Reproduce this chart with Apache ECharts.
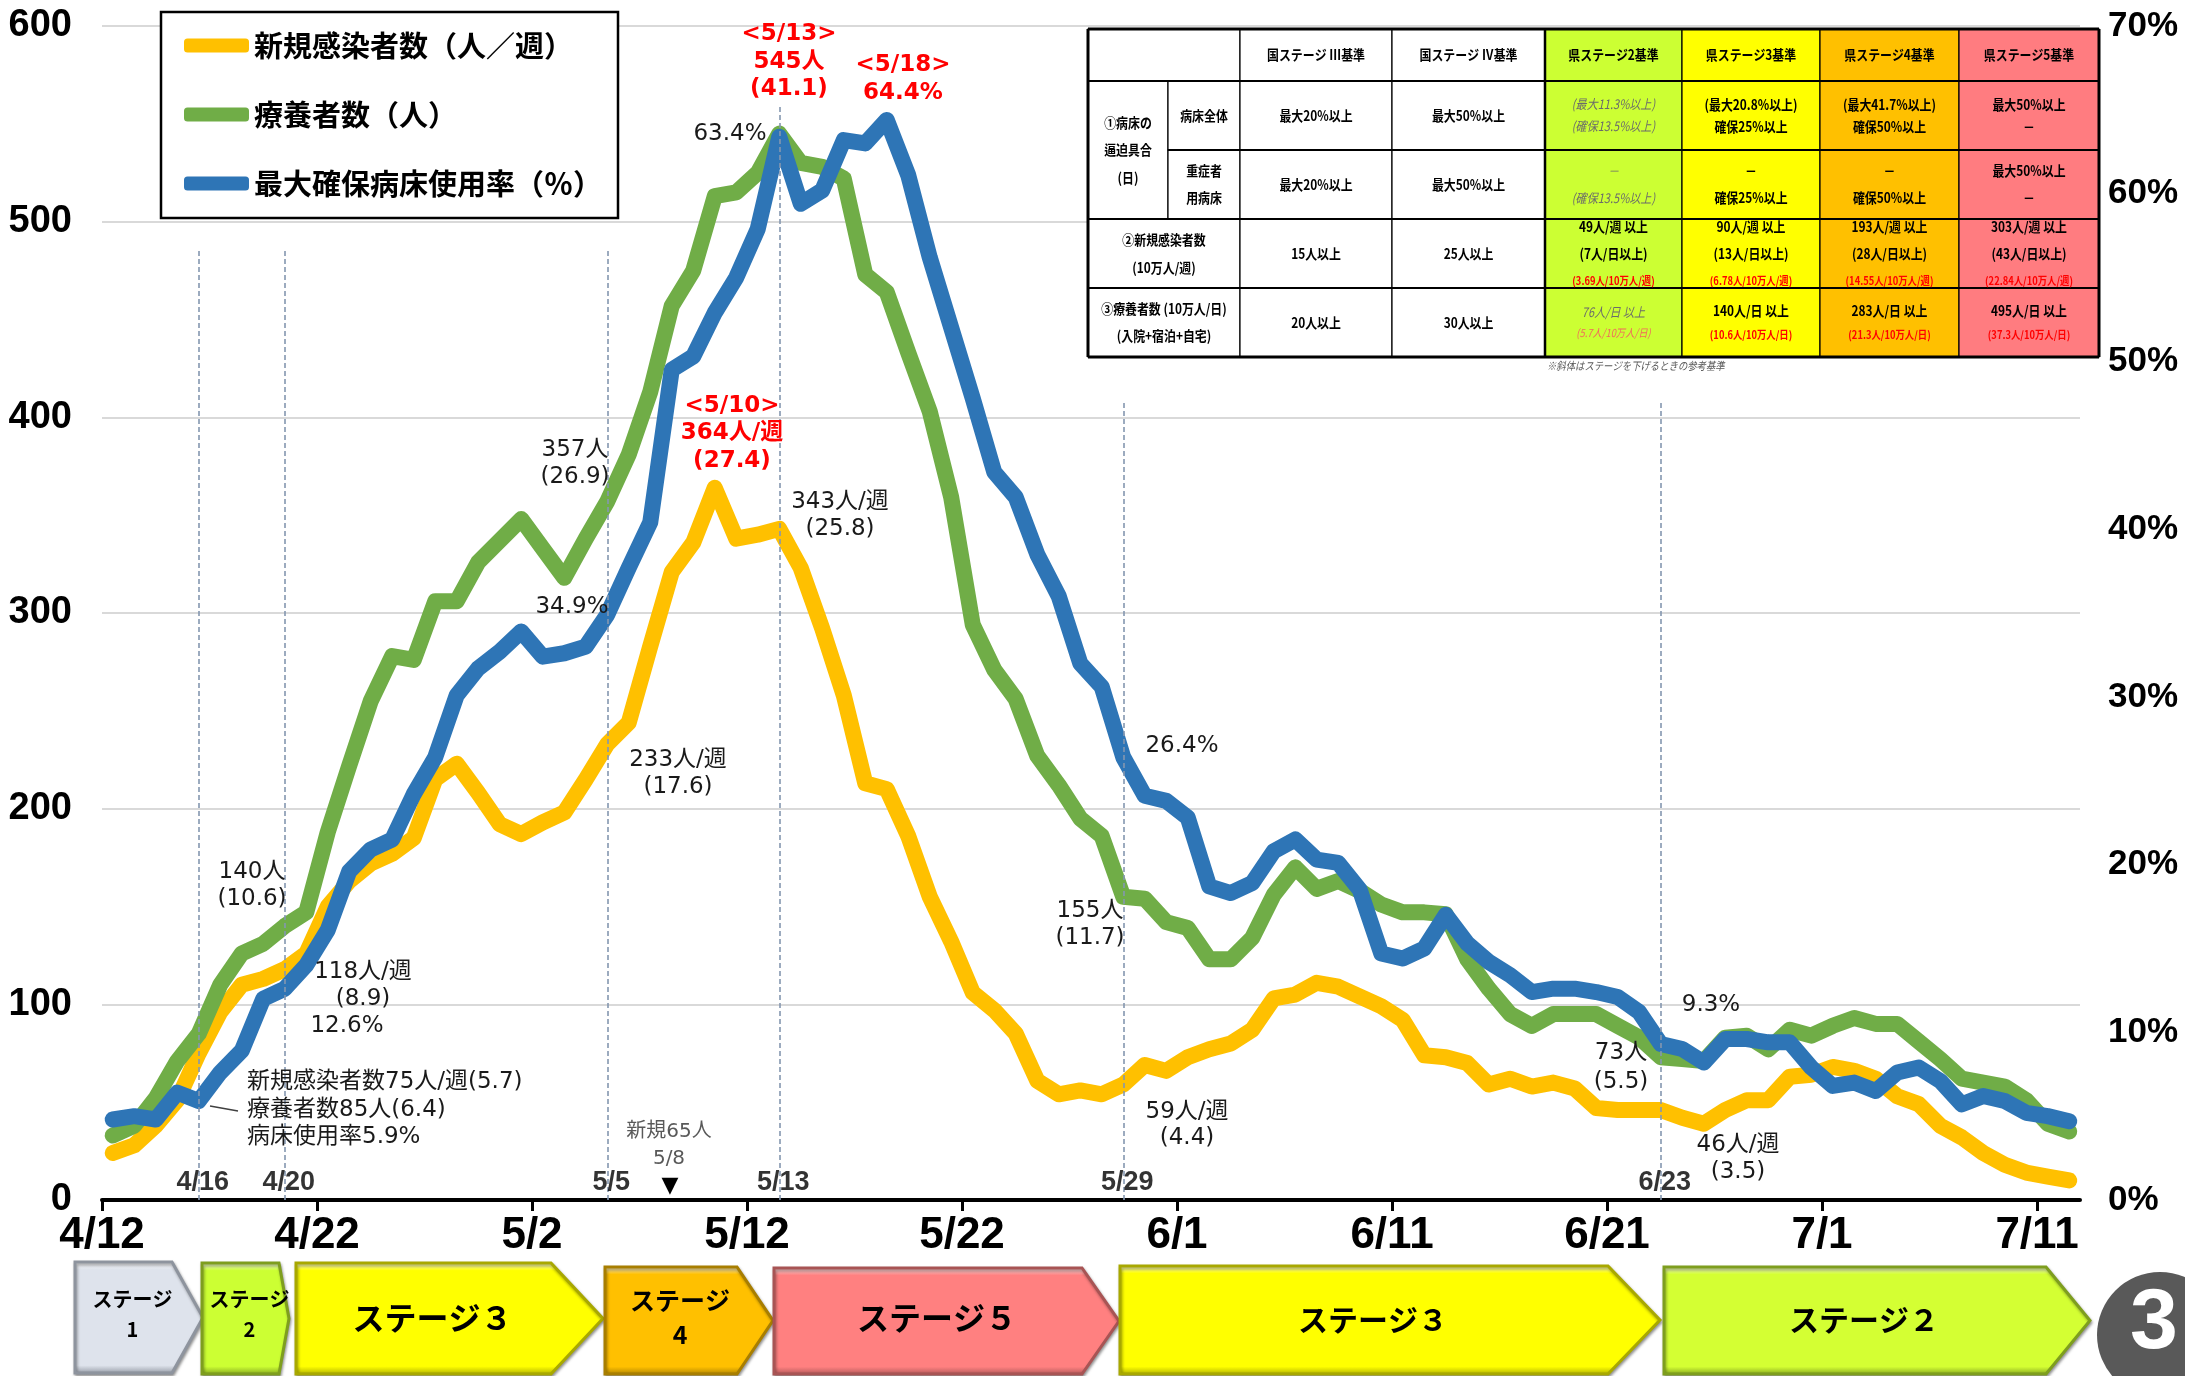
<!DOCTYPE html>
<html><head><meta charset="utf-8">
<script src="https://cdn.jsdelivr.net/npm/echarts@6/dist/echarts.min.js"></script>
<style>html,body{margin:0;padding:0;background:#fff}#c{width:2185px;height:1376px}</style>
</head><body><div id="c"></div>
<script>
// ---------- data ----------
const dates = ['4/12','4/13','4/14','4/15','4/16','4/17','4/18','4/19','4/20','4/21','4/22','4/23','4/24','4/25','4/26','4/27','4/28','4/29','4/30',
'5/1','5/2','5/3','5/4','5/5','5/6','5/7','5/8','5/9','5/10','5/11','5/12','5/13','5/14','5/15','5/16','5/17','5/18','5/19','5/20','5/21','5/22','5/23','5/24','5/25','5/26','5/27','5/28','5/29','5/30','5/31',
'6/1','6/2','6/3','6/4','6/5','6/6','6/7','6/8','6/9','6/10','6/11','6/12','6/13','6/14','6/15','6/16','6/17','6/18','6/19','6/20','6/21','6/22','6/23','6/24','6/25','6/26','6/27','6/28','6/29','6/30',
'7/1','7/2','7/3','7/4','7/5','7/6','7/7','7/8','7/9','7/10','7/11','7/12'];
const tickLabels = ['4/12','4/22','5/2','5/12','5/22','6/1','6/11','6/21','7/1','7/11'];
const newCases = [24,28,38,51,75,96,110,113,118,126,
 150,163,172,177,185,215,223,208,192,187,
 193,198,215,233,244,283,321,336,364,338,
 340,343,323,292,258,213,210,186,155,132,
 106,97,85,61,54,56,54,59,69,66,
 73,77,80,87,103,105,111,109,104,99,
 92,74,73,70,59,62,58,60,57,47,
 46,46,46,42,39,46,51,51,63,64,
 68,66,62,53,49,38,32,24,18,14,
 12,10];
const patients = [33,38,52,71,85,110,126,131,140,147,
 188,222,255,278,276,306,306,326,337,348,
 333,318,338,357,381,413,457,475,513,515,
 525,545,530,528,522,473,464,433,403,359,
 294,271,256,227,212,195,186,155,154,142,
 139,123,123,134,156,170,159,163,158,151,
 147,147,146,123,108,95,89,95,95,95,
 89,83,73,72,71,83,84,77,87,84,
 89,93,90,90,81,72,62,60,58,51,
 39,35];
const bedRate = [4.8,5.0,4.8,6.4,5.9,7.6,8.9,12.0,12.6,14.0,
 16.1,19.6,20.9,21.5,24.2,26.4,30.1,31.7,32.7,33.9,
 32.4,32.6,33.0,34.9,37.7,40.4,49.5,50.3,52.9,55.0,
 57.9,63.4,59.4,60.2,63.2,63.0,64.4,61.1,56.2,52.0,
 47.8,43.4,41.9,38.5,36.0,32.0,30.6,26.4,24.1,23.8,
 22.8,18.7,18.3,18.9,20.8,21.5,20.3,20.1,18.5,14.7,
 14.4,15.0,17.0,15.3,14.2,13.4,12.4,12.6,12.6,12.4,
 12.1,11.2,9.3,9.0,8.2,9.6,9.6,9.4,9.4,7.9,
 6.8,7.0,6.5,7.6,7.9,7.1,5.7,6.2,5.9,5.2,
 5.0,4.7];
const seriesNames = ['新規感染者数（人／週）','療養者数（人）','最大確保病床使用率（％）'];
const vlineDates = ['4/16','4/20','5/5','5/13','5/29','6/23'];
const vlineTop = [485,485,485,559,408,408];

// ---------- fonts ----------
const AX = "'Liberation Sans', Arial, sans-serif";
const JP = "'Noto Sans CJK JP', sans-serif";
const AN = "'DejaVu Sans', 'Noto Sans CJK JP', sans-serif";

const chart = echarts.init(document.getElementById('c'), null, {renderer:'canvas'});
const toXY = arr => arr.map((v,i)=>[i+0.5, v]);
const tickVals = tickLabels.map((_,k)=>k*10);
const vIdx = vlineDates.map(d => dates.indexOf(d));

// ---------- graphic: annotations ----------
const g = [];
function txt(t, x, y, font, fill, align, extra) {
  g.push(Object.assign({type:'text', x:x, y:y, z:100, silent:true,
    style:{text:t, x:0, y:0, font:font, fill:fill, align:align||'center', verticalAlign:'middle',
      textAlign:align||'center', textVerticalAlign:'middle'}}, extra||{}));
}
const annBlack = [
 ['140人',252,872],['(10.6)',252,899],
 ['118人/週',363,972],['(8.9)',363,999],['12.6%',347,1026],
 ['357人',575,450],['(26.9)',575,477],['34.9%',572,607],
 ['233人/週',678,760],['(17.6)',678,787],
 ['63.4%',730,134],
 ['343人/週',840,502],['(25.8)',840,529],
 ['26.4%',1182,746],
 ['155人',1090,911],['(11.7)',1090,938],
 ['59人/週',1187,1112],['(4.4)',1187,1138],
 ['73人',1621,1053],['(5.5)',1621,1082],
 ['9.3%',1711,1005],
 ['46人/週',1738,1145],['(3.5)',1738,1172]
];
annBlack.forEach(a => txt(a[0], a[1], a[2], `23px ${AN}`, '#1a1a1a'));
[['新規感染者数75人/週(5.7)',1082],['療養者数85人(6.4)',1110],['病床使用率5.9%',1137]]
  .forEach(a => txt(a[0], 247, a[1], `23px ${AN}`, '#1a1a1a', 'left'));
g.push({type:'line', z:100, silent:true, shape:{x1:210,y1:1106,x2:238,y2:1111}, style:{stroke:'#404040', lineWidth:1.5}});
const annRed = [['<5/10>',732,406],['364人/週',732,433],['(27.4)',732,461],
 ['<5/13>',789,34],['545人',789,62],['(41.1)',789,89],['<5/18>',903,65],['64.4%',903,93]];
annRed.forEach(a => txt(a[0], a[1], a[2], `bold 23px ${AN}`, '#FF0000'));
txt('新規65人', 669, 1132, `20px ${AN}`, '#595959');
txt('5/8', 669, 1159, `20px ${AN}`, '#595959');
txt('▼', 670, 1186, `22px ${AN}`, '#000');

// ---------- graphic: table ----------
const tableCols = [1088,1168,1240,1392,1545,1682,1820,1959,2099];
const tableRows = [29,81,150,219,288,357];
const colFill = {4:'#CCFF33',5:'#FFFF00',6:'#FFC000',7:'#FF7C80'};
const cells = [
 {c:[0,2],r:[0,1],l:[]},
 {c:[2,3],r:[0,1],l:['国ステージ Ⅲ基準']},
 {c:[3,4],r:[0,1],l:['国ステージ Ⅳ基準']},
 {c:[4,5],r:[0,1],l:['県ステージ2基準']},
 {c:[5,6],r:[0,1],l:['県ステージ3基準']},
 {c:[6,7],r:[0,1],l:['県ステージ4基準']},
 {c:[7,8],r:[0,1],l:['県ステージ5基準']},
 {c:[0,1],r:[1,3],l:['①病床の','逼迫具合','(日)'],sp:27.5},
 {c:[1,2],r:[1,2],l:['病床全体']},
 {c:[2,3],r:[1,2],l:['最大20%以上']},
 {c:[3,4],r:[1,2],l:['最大50%以上']},
 {c:[4,5],r:[1,2],l:[['(最大11.3%以上)','i'],['(確保13.5%以上)','i']],sp:22},
 {c:[5,6],r:[1,2],l:['(最大20.8%以上)','確保25%以上'],sp:22},
 {c:[6,7],r:[1,2],l:['(最大41.7%以上)','確保50%以上'],sp:22},
 {c:[7,8],r:[1,2],l:['最大50%以上','－'],sp:22},
 {c:[1,2],r:[2,3],l:['重症者','用病床'],sp:27},
 {c:[2,3],r:[2,3],l:['最大20%以上']},
 {c:[3,4],r:[2,3],l:['最大50%以上']},
 {c:[4,5],r:[2,3],l:[['－','i'],['(確保13.5%以上)','i']],sp:27},
 {c:[5,6],r:[2,3],l:['－','確保25%以上'],sp:27},
 {c:[6,7],r:[2,3],l:['－','確保50%以上'],sp:27},
 {c:[7,8],r:[2,3],l:['最大50%以上','－'],sp:27},
 {c:[0,2],r:[3,4],l:['②新規感染者数','(10万人/週)'],sp:28},
 {c:[2,3],r:[3,4],l:['15人以上']},
 {c:[3,4],r:[3,4],l:['25人以上']},
 {c:[4,5],r:[3,4],l:['49人/週 以上','(7人/日以上)',['(3.69人/10万人/週)','r']],sp:27},
 {c:[5,6],r:[3,4],l:['90人/週 以上','(13人/日以上)',['(6.78人/10万人/週)','r']],sp:27},
 {c:[6,7],r:[3,4],l:['193人/週 以上','(28人/日以上)',['(14.55人/10万人/週)','r']],sp:27},
 {c:[7,8],r:[3,4],l:['303人/週 以上','(43人/日以上)',['(22.84人/10万人/週)','r']],sp:27},
 {c:[0,2],r:[4,5],l:['③療養者数 (10万人/日)','(入院+宿泊+自宅)'],sp:27},
 {c:[2,3],r:[4,5],l:['20人以上']},
 {c:[3,4],r:[4,5],l:['30人以上']},
 {c:[4,5],r:[4,5],l:[['76人/日 以上','i'],['(5.7人/10万人/日)','ir']],sp:20},
 {c:[5,6],r:[4,5],l:['140人/日 以上',['(10.6人/10万人/日)','r']],sp:24},
 {c:[6,7],r:[4,5],l:['283人/日 以上',['(21.3人/10万人/日)','r']],sp:24},
 {c:[7,8],r:[4,5],l:['495人/日 以上',['(37.3人/10万人/日)','r']],sp:24}
];
const tStyle = {
 n:{font:`bold 14px ${JP}`, fill:'#000'},
 i:{font:`italic 13px ${JP}`, fill:'#6b6b6b'},
 r:{font:`bold 11px ${JP}`, fill:'#FF0000'},
 ir:{font:`italic 11px ${JP}`, fill:'#F26B5B'}
};
cells.forEach(cell => {
  const x0 = tableCols[cell.c[0]], x1 = tableCols[cell.c[1]];
  const y0 = tableRows[cell.r[0]], y1 = tableRows[cell.r[1]];
  g.push({type:'rect', z:50, silent:true, shape:{x:x0,y:y0,width:x1-x0,height:y1-y0},
    style:{fill: colFill[cell.c[0]] || '#fff', stroke:'#000', lineWidth:1.2}});
  const n = cell.l.length, sp = cell.sp || 24;
  const cx = (x0+x1)/2, cy = (y0+y1)/2;
  cell.l.forEach((ln,k) => {
    const t = Array.isArray(ln) ? ln[0] : ln, s = tStyle[Array.isArray(ln) ? ln[1] : 'n'];
    txt(t, cx, cy + (k-(n-1)/2)*sp, s.font, s.fill, 'center', {scaleX:0.85, z:53});
  });
});
[[0,0,8,3],[1,0,8,2],[2,1,8,2],[3,0,8,2],[4,0,8,2],[5,0,8,3]].forEach(h => {
  g.push({type:'line', z:52, silent:true, shape:{x1:tableCols[h[1]],y1:tableRows[h[0]],x2:tableCols[h[2]],y2:tableRows[h[0]]},
    style:{stroke:'#000', lineWidth:h[3]}});
});
[[0,3],[4,2.5],[8,3]].forEach(v => {
  g.push({type:'line', z:52, silent:true, shape:{x1:tableCols[v[0]],y1:tableRows[0],x2:tableCols[v[0]],y2:tableRows[5]},
    style:{stroke:'#000', lineWidth:v[1]}});
});
txt('※斜体はステージを下げるときの参考基準', 1547, 366, `italic 11px ${JP}`, '#595959', 'left', {scaleX:0.85, z:53});

// ---------- graphic: stage arrows ----------
const stages = [
 {t:'ステージ\n1', x0:75, b:172, tip:203, top:1262, bot:1373, fill:'#DEE3EC', edge:'#8E949E', fs:20, lh:30, ty:1314},
 {t:'ステージ\n2', x0:202, b:279, tip:289, top:1263, bot:1374, fill:'#CCFF33', edge:'#7E9E1E', fs:20, lh:30, ty:1314},
 {t:'ステージ３', x0:296, b:551, tip:603, top:1263, bot:1374, fill:'#FFFF00', edge:'#A8A800', fs:32, lh:36, ty:1318},
 {t:'ステージ\n4', x0:605, b:737, tip:773, top:1267, bot:1374, fill:'#FFC000', edge:'#A87E00', fs:25, lh:34, ty:1317},
 {t:'ステージ５', x0:774, b:1082, tip:1119, top:1268, bot:1374, fill:'#FF8080', edge:'#A85454', fs:32, lh:36, ty:1318},
 {t:'ステージ３', x0:1120, b:1608, tip:1660, top:1266, bot:1374, fill:'#FFFF00', edge:'#A8A800', fs:30, lh:36, ty:1320},
 {t:'ステージ２', x0:1664, b:2046, tip:2090, top:1267, bot:1374, fill:'#D4FF33', edge:'#7E9E1E', fs:30, lh:36, ty:1320}
];
stages.forEach(s => {
  const mid = (s.top + s.bot)/2;
  g.push({type:'polygon', z:20, silent:true,
    shape:{points:[[s.x0,s.top],[s.b,s.top],[s.tip,mid],[s.b,s.bot],[s.x0,s.bot]]},
    style:{fill:{type:'linear',x:0,y:0,x2:0,y2:1,colorStops:[{offset:0,color:'#ffffff'},{offset:0.08,color:s.fill},{offset:0.92,color:s.fill},{offset:1,color:s.edge}]},
      stroke:s.edge, lineWidth:3, shadowBlur:3, shadowColor:'rgba(0,0,0,0.35)', shadowOffsetX:1, shadowOffsetY:2}});
  g.push({type:'text', z:21, silent:true, x:(s.x0+s.b)/2+9, y:s.ty,
    style:{text:s.t, x:0, y:0, font:`bold ${s.fs}px ${JP}`, fill:'#000', lineHeight:s.lh,
      align:'center', verticalAlign:'middle', textAlign:'center', textVerticalAlign:'middle'}});
});
g.push({type:'circle', z:20, silent:true, shape:{cx:2160, cy:1335, r:63}, style:{fill:'#595959'}});
txt('3', 2154, 1324, `bold 86px ${AX}`, '#fff', 'center', {z:21});

// ---------- option ----------
const option = {
  animation:false,
  backgroundColor:'#fff',
  grid:{left:102, right:105, top:26, bottom:176, containLabel:false},
  legend:{
    data:seriesNames, orient:'vertical', left:161, top:12,
    padding:[19,16,20,23], itemGap:40, itemWidth:65, itemHeight:14, icon:'roundRect',
    borderColor:'#000', borderWidth:2.5, backgroundColor:'#fff',
    textStyle:{fontFamily:JP, fontSize:29, fontWeight:'bold', color:'#000'},
    selectedMode:false
  },
  xAxis:{
    type:'value', min:0, max:92, interval:10,
    axisLine:{onZero:true, lineStyle:{color:'#000', width:4}},
    axisTick:{show:true, customValues:tickVals, length:11, lineStyle:{color:'#000', width:3}},
    axisLabel:{customValues:tickVals, margin:14, fontFamily:AX, fontSize:44, fontWeight:'bold', color:'#000',
      formatter: v => (v % 10 === 0 && tickLabels[v/10]) ? tickLabels[v/10] : ''},
    splitLine:{show:false}
  },
  yAxis:[
    {type:'value', min:0, max:600, interval:100, position:'left',
     axisLine:{show:false}, axisTick:{show:false},
     axisLabel:{fontFamily:AX, fontSize:38, fontWeight:'bold', color:'#000', margin:30, align:'right'},
     splitLine:{show:true, lineStyle:{color:'#D9D9D9', width:2}}},
    {type:'value', min:0, max:70, interval:10, position:'right',
     axisLine:{show:false}, axisTick:{show:false},
     axisLabel:{fontFamily:AX, fontSize:35, fontWeight:'bold', color:'#000', margin:28, align:'left', formatter:'{value}%'},
     splitLine:{show:false}}
  ],
  series:[
    {name:seriesNames[0], type:'line', data:toXY(newCases), symbol:'none', z:3,
     lineStyle:{color:'#FFC000', width:16, cap:'round', join:'round'}, itemStyle:{color:'#FFC000'}},
    {name:seriesNames[1], type:'line', data:toXY(patients), symbol:'none', z:3,
     lineStyle:{color:'#70AD47', width:16, cap:'round', join:'round'}, itemStyle:{color:'#70AD47'}},
    {name:seriesNames[2], type:'line', yAxisIndex:1, data:toXY(bedRate), symbol:'none', z:3,
     lineStyle:{color:'#2E75B6', width:16, cap:'round', join:'round'}, itemStyle:{color:'#2E75B6'}},
    {name:'vlines', type:'line', data:[], z:6, silent:true,
     markLine:{silent:true, symbol:['none','none'], label:{show:false},
       lineStyle:{type:[5,3], color:'#8497B0', width:1.6},
       data: vIdx.map((i,k)=>[{coord:[i+0.5,0]},{coord:[i+0.5,vlineTop[k]]}])}},
    {name:'vlabels', type:'scatter', data:vIdx.map(i=>[i+0.5,0]), symbolSize:1, z:7, silent:true,
     itemStyle:{color:'rgba(0,0,0,0)'},
     label:{show:true, position:'top', distance:3, offset:[4,0],
       formatter:p => vlineDates[p.dataIndex], fontFamily:AX, fontSize:27, fontWeight:'bold', color:'#000'}}
  ],
  graphic:{elements:g}
};
chart.setOption(option);
</script>
</body></html>
